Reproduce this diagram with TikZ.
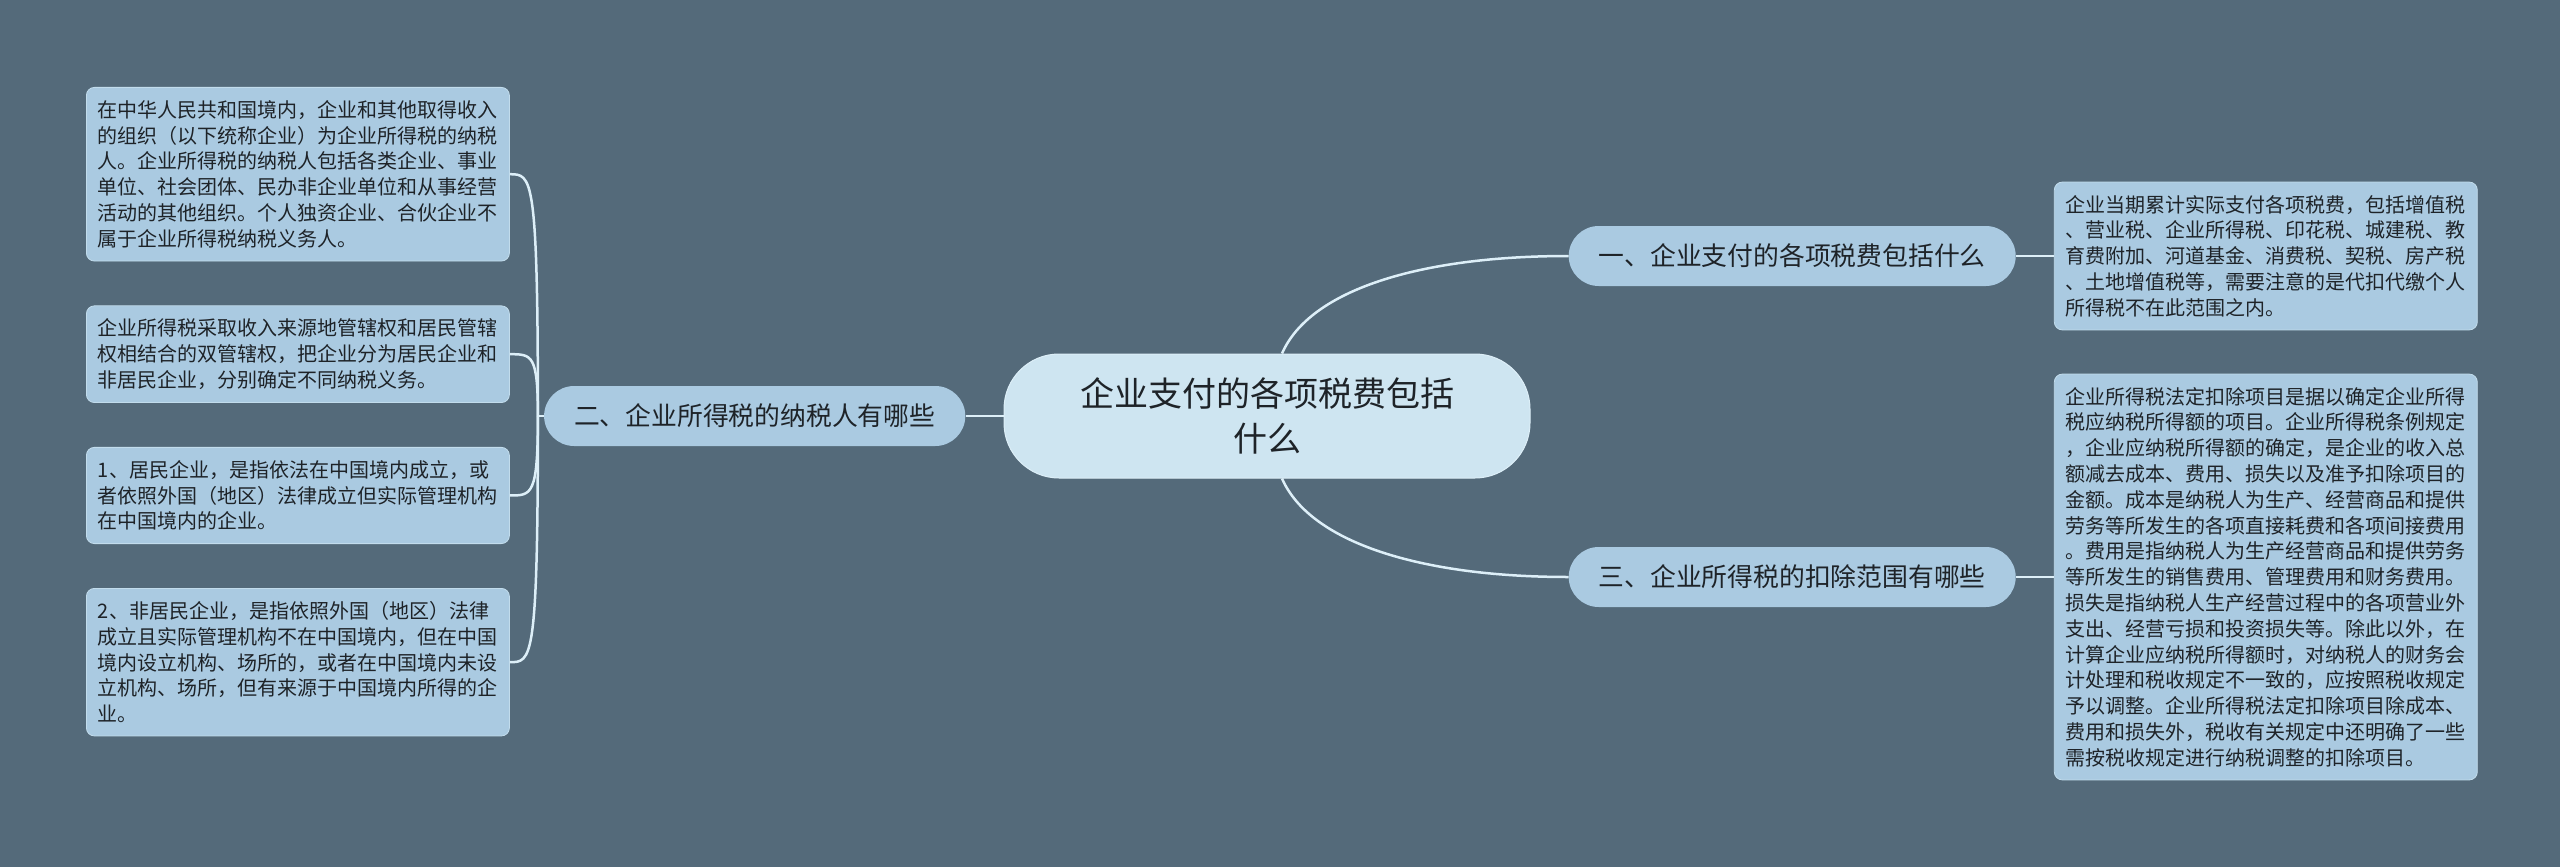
\documentclass[tikz,border=0pt]{standalone}
\usepackage{fontspec}
\setmainfont{Noto Sans CJK SC}
\usetikzlibrary{positioning}
\definecolor{bgslate}{HTML}{546A7A}
\definecolor{leafblue}{HTML}{AACAE1}
\definecolor{rootblue}{HTML}{CEE5F1}
\definecolor{edgeline}{HTML}{C2DCEC}
\definecolor{linkwhite}{HTML}{DDEFF8}
\definecolor{inkdark}{HTML}{1E2328}

\begin{document}
\begin{tikzpicture}[x=1pt, y=-1pt,
        root/.style={fill=rootblue, draw=linkwhite, line width=1pt, rounded corners=55pt,
            minimum width=526pt, minimum height=124pt, align=center, text=inkdark,
            font=\fontsize{34}{45}\selectfont},
        branch/.style={fill=leafblue, rounded corners=30pt, minimum height=60pt,
            inner xsep=30pt, text=inkdark, font=\fontsize{25.8}{30}\selectfont},
        leaf/.style={fill=leafblue, draw=edgeline, line width=0.8pt, rounded corners=8pt,
            text width=400pt, inner xsep=11.5pt, inner ysep=13pt, align=left, text=inkdark,
            font=\fontsize{20}{25.8}\selectfont},
        link/.style={draw=linkwhite, line width=2.5pt},
        node distance=38pt
        ]
        \fill[bgslate] (0,0) rectangle (2560,867);
        % centre
        \node[root] (root) at (1267,416) {企业支付的各项税费包括\\什么};
        % branches
        \node[branch, right=of root, yshift=160pt] (b1) {一、企业支付的各项税费包括什么};
        \node[branch, right=of root, yshift=-161pt] (b3) {三、企业所得税的扣除范围有哪些};
        \node[branch, left=of root] (b2) {二、企业所得税的纳税人有哪些};
        % right leaves
        \node[leaf, right=of b1] (rA) {企业当期累计实际支付各项税费，包括增值税\\
            、营业税、企业所得税、印花税、城建税、教\\
            育费附加、河道基金、消费税、契税、房产税\\
            、土地增值税等，需要注意的是代扣代缴个人\\
            所得税不在此范围之内。};
        \node[leaf, right=of b3] (rB) {企业所得税法定扣除项目是据以确定企业所得\\
            税应纳税所得额的项目。企业所得税条例规定\\
            ，企业应纳税所得额的确定，是企业的收入总\\
            额减去成本、费用、损失以及准予扣除项目的\\
            金额。成本是纳税人为生产、经营商品和提供\\
            劳务等所发生的各项直接耗费和各项间接费用\\
            。费用是指纳税人为生产经营商品和提供劳务\\
            等所发生的销售费用、管理费用和财务费用。\\
            损失是指纳税人生产经营过程中的各项营业外\\
            支出、经营亏损和投资损失等。除此以外，在\\
            计算企业应纳税所得额时，对纳税人的财务会\\
            计处理和税收规定不一致的，应按照税收规定\\
            予以调整。企业所得税法定扣除项目除成本、\\
            费用和损失外，税收有关规定中还明确了一些\\
            需按税收规定进行纳税调整的扣除项目。};
        % left leaves
        \node[leaf, anchor=north west] (l1) at (86,87) {在中华人民共和国境内，企业和其他取得收入\\
            的组织（以下统称企业）为企业所得税的纳税\\
            人。企业所得税的纳税人包括各类企业、事业\\
            单位、社会团体、民办非企业单位和从事经营\\
            活动的其他组织。个人独资企业、合伙企业不\\
            属于企业所得税纳税义务人。};
        \node[leaf, below=44pt of l1] (l2) {企业所得税采取收入来源地管辖权和居民管辖\\
            权相结合的双管辖权，把企业分为居民企业和\\
            非居民企业，分别确定不同纳税义务。};
        \node[leaf, below=44pt of l2] (l3) {1、居民企业，是指依法在中国境内成立，或\\
            者依照外国（地区）法律成立但实际管理机构\\
            在中国境内的企业。};
        \node[leaf, below=44pt of l3] (l4) {2、非居民企业，是指依照外国（地区）法律\\
            成立且实际管理机构不在中国境内，但在中国\\
            境内设立机构、场所的，或者在中国境内未设\\
            立机构、场所，但有来源于中国境内所得的企\\
            业。};
        % links
        \draw[link] ([xshift=15pt]root.north) .. controls +(28pt,64pt) and +(-148pt,0pt) .. (b1.west);
        \draw[link] ([xshift=15pt]root.south) .. controls +(28pt,-64pt) and +(-148pt,0pt) .. (b3.west);
        \draw[link] (root.west) -- (b2.east);
        \draw[link] (b1.east) -- (rA.west);
        \draw[link] (b3.east) -- (rB.west);
        \coordinate[left=6pt of b2.west] (j);
        \draw[link] (b2.west) -- (j);
        \foreach \n in {l1,l2,l3,l4}
            \draw[link] (j) .. controls (j |- \n.east) and ([xshift=22pt]\n.east) .. (\n.east);
    \end{tikzpicture}
\end{document}
